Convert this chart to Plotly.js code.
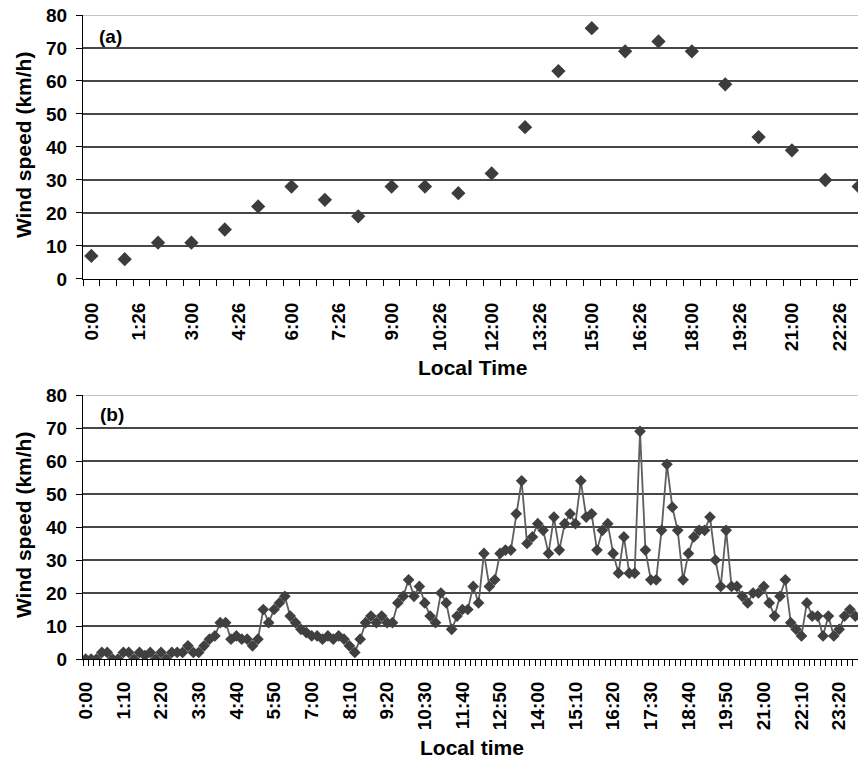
<!DOCTYPE html>
<html>
<head>
<meta charset="utf-8">
<script src="https://cdn.plot.ly/plotly-3.0.1.min.js"></script>
<style>html,body{margin:0;padding:0;background:#fff;}#chart{width:858px;height:760px;}</style>
</head>
<body>
<div id="chart"></div>
<script>
// (a) hourly wind speed
const topHours = [0,1,2,3,4,5,6,7,8,9,10,11,12,13,14,15,16,17,18,19,20,21,22,23];
const topSpeed = [7,6,11,11,15,22,28,24,19,28,28,26,32,46,63,76,69,72,69,59,43,39,30,28];
const topTickLabels = ['0:00','1:26','3:00','4:26','6:00','7:26','9:00','10:26','12:00','13:26','15:00','16:26','18:00','19:26','21:00','22:26'];

// (b) 10-minute wind speed (0:00 .. 23:50)
const sampleMinutes = 10;
const bottomSpeed = [
  0,0,0,2,2,0,0,2,2,0,
  2,1,2,0,2,0,2,2,2,4,
  2,2,4,6,7,11,11,6,7,6,
  6,4,6,15,11,15,17,19,13,11,
  9,8,7,7,6,7,6,7,6,4,
  2,6,11,13,11,13,11,11,17,19,
  24,19,22,17,13,11,20,17,9,13,
  15,15,22,17,32,22,24,32,33,33,
  44,54,35,37,41,39,32,43,33,41,
  44,41,54,43,44,33,39,41,32,26,
  37,26,26,69,33,24,24,39,59,46,
  39,24,32,37,39,39,43,30,22,39,
  22,22,19,17,20,20,22,17,13,19,
  24,11,9,7,17,13,13,7,13,7,
  9,13,15,13
];
const bottomTickLabels = ['0:00','1:10','2:20','3:30','4:40','5:50','7:00','8:10','9:20','10:30','11:40','12:50','14:00','15:10','16:20','17:30','18:40','19:50','21:00','22:10','23:20'];
const yTicks = [0,10,20,30,40,50,60,70,80];

function toMinutes(s){ const p = s.split(':').map(Number); return p[0]*60 + p[1]; }
const bottomMinutes = bottomSpeed.map((v,i) => i*sampleMinutes);

const FONT = 'Liberation Sans, Arial, Helvetica, sans-serif';
const tickFont = {family: FONT, size: 19, color: '#000', weight: 'bold'};
const titleFont = {family: FONT, size: 21, color: '#000', weight: 'bold'};

const traces = [
  {x: topHours, y: topSpeed, xaxis: 'x', yaxis: 'y', type: 'scatter', mode: 'markers',
   marker: {symbol: 'diamond', size: 11, color: '#3c3c3c'}, hoverinfo: 'x+y'},
  {x: bottomMinutes, y: bottomSpeed, xaxis: 'x2', yaxis: 'y2', type: 'scatter', mode: 'lines+markers',
   line: {color: '#5e5e5e', width: 1.8}, marker: {symbol: 'diamond', size: 9, color: '#404040'}, hoverinfo: 'x+y'}
];

function yAxis(domain, anchor){
  return {domain: domain, anchor: anchor, range: [0, 80], tickmode: 'array', tickvals: yTicks,
    ticks: 'outside', ticklen: 6, tickcolor: '#000', tickwidth: 1, ticklabelstandoff: 5,
    showline: true, linecolor: '#000', linewidth: 1, zeroline: false,
    showgrid: true, gridcolor: '#474747', gridwidth: 1.2, tickfont: tickFont, fixedrange: true};
}

const layout = {
  width: 858, height: 760,
  margin: {l: 83, r: 0, t: 15, b: 101},
  paper_bgcolor: '#fff', plot_bgcolor: '#fff',
  showlegend: false,
  xaxis: {anchor: 'y', domain: [0,1], range: [-0.25, 22.98],
    tickmode: 'array', tickvals: topTickLabels.map(s => toMinutes(s)/60), ticktext: topTickLabels,
    tickangle: -90, ticks: 'outside', ticklen: 6, tickcolor: 'rgba(0,0,0,0)', ticklabelstandoff: 9,
    minor: {tick0: -0.25, dtick: 0.5, ticks: 'outside', ticklen: 6, tickcolor: '#000', tickwidth: 1, showgrid: false},
    showline: true, linecolor: '#000', linewidth: 1, zeroline: false, showgrid: false,
    tickfont: tickFont, fixedrange: true},
  yaxis: yAxis([0.5901, 1], 'x'),
  xaxis2: {anchor: 'y2', domain: [0,1], range: [-5, 1435],
    tickmode: 'array', tickvals: bottomTickLabels.map(toMinutes), ticktext: bottomTickLabels,
    tickangle: -90, ticks: 'outside', ticklen: 6, tickcolor: 'rgba(0,0,0,0)', ticklabelstandoff: 8,
    minor: {tick0: -5, dtick: 10, ticks: 'outside', ticklen: 6, tickcolor: '#000', tickwidth: 1, showgrid: false},
    showline: true, linecolor: '#000', linewidth: 1, zeroline: false, showgrid: false,
    tickfont: tickFont, fixedrange: true},
  yaxis2: yAxis([0, 0.4099], 'x2'),
  shapes: [
    {type: 'line', xref: 'x domain', yref: 'y', x0: 0, x1: 1, y0: 80, y1: 80, line: {color: '#c4c4c4', width: 2}},
    {type: 'line', xref: 'x2 domain', yref: 'y2', x0: 0, x1: 1, y0: 80, y1: 80, line: {color: '#c4c4c4', width: 2}}
  ],
  annotations: [
    {text: '(a)', xref: 'paper', yref: 'paper', x: 0.036, y: 0.966, showarrow: false, xanchor: 'center', yanchor: 'middle', font: tickFont},
    {text: '(b)', xref: 'paper', yref: 'paper', x: 0.037, y: 0.380, showarrow: false, xanchor: 'center', yanchor: 'middle', font: tickFont},
    {text: 'Local Time', xref: 'paper', yref: 'paper', x: 0.503, y: 0.452, showarrow: false, xanchor: 'center', yanchor: 'middle', font: titleFont},
    {text: 'Local time', xref: 'paper', yref: 'paper', x: 0.502, y: -0.138, showarrow: false, xanchor: 'center', yanchor: 'middle', font: titleFont},
    {text: 'Wind speed (km/h)', xref: 'paper', yref: 'paper', x: -0.0774, y: 0.798, showarrow: false, xanchor: 'center', yanchor: 'middle', textangle: -90, font: titleFont},
    {text: 'Wind speed (km/h)', xref: 'paper', yref: 'paper', x: -0.0774, y: 0.208, showarrow: false, xanchor: 'center', yanchor: 'middle', textangle: -90, font: titleFont}
  ]
};

Plotly.newPlot('chart', traces, layout, {displayModeBar: false, staticPlot: true});
</script>
</body>
</html>
